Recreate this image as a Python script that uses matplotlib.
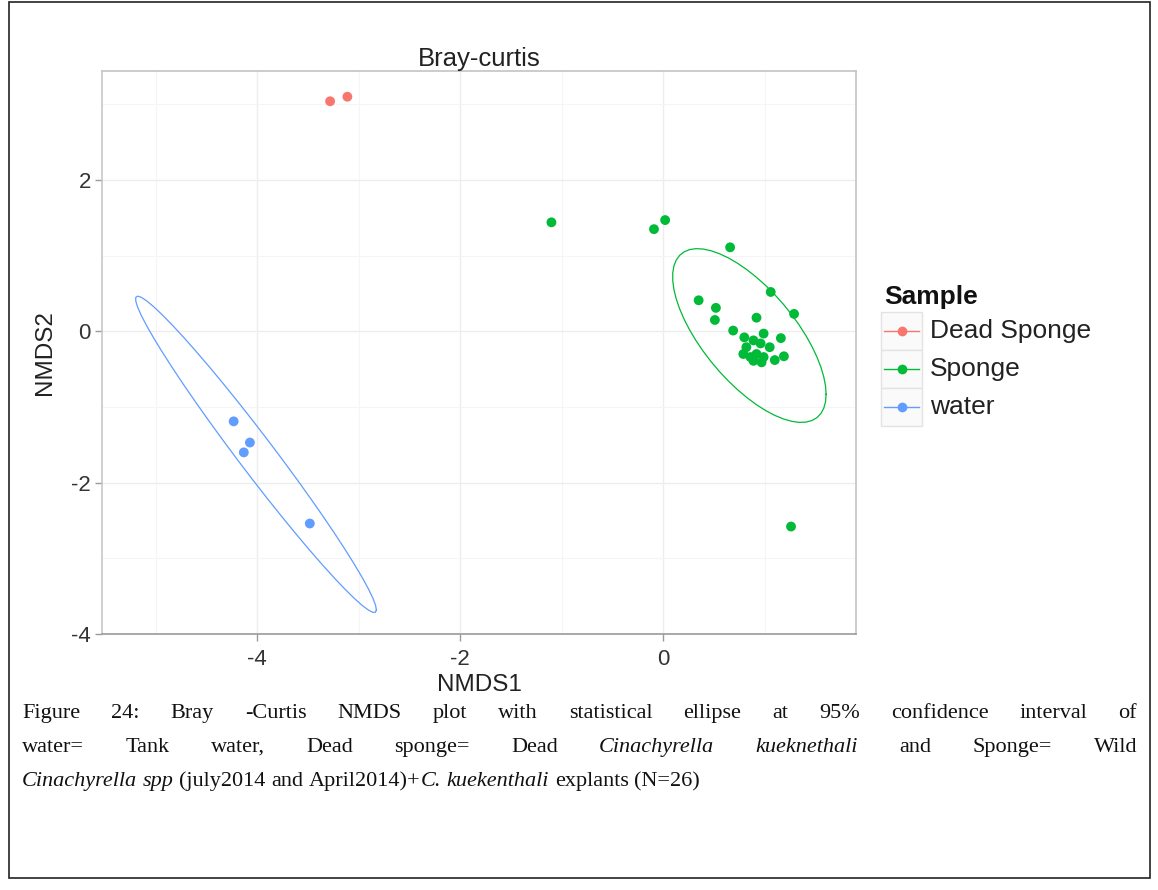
import numpy as np
import matplotlib
matplotlib.use("Agg")
import matplotlib.pyplot as plt
from matplotlib.patches import Rectangle
from matplotlib.lines import Line2D

plt.rcParams["axes.unicode_minus"] = False

# ---------------- data ----------------
groups = ["Dead Sponge", "Sponge", "water"]
colors = ["#F8766D", "#00BA38", "#619CFF"]

dead_x = [-3.28, -3.11]
dead_y = [3.04, 3.10]

sponge_x = [-1.10, -0.09, 0.02, 0.66, 1.26,
            1.06, 1.29, 0.35, 0.52, 0.51, 0.92, 0.69, 0.80, 0.99, 1.16,
            0.89, 0.96, 1.05, 0.82, 0.79, 0.92, 0.99, 1.19, 0.89, 0.97, 1.10, 0.86]
sponge_y = [1.44, 1.35, 1.47, 1.11, -2.58,
            0.52, 0.23, 0.41, 0.31, 0.15, 0.18, 0.01, -0.08, -0.03, -0.09,
            -0.12, -0.16, -0.21, -0.21, -0.30, -0.30, -0.34, -0.33, -0.39, -0.41, -0.38, -0.34]

water_x = [-4.23, -4.07, -4.13, -3.48]
water_y = [-1.19, -1.47, -1.60, -2.54]

xticks = [-4, -2, 0]
yticks = [-4, -2, 0, 2]

caption_lines = [
    [("Figure 24: Bray -Curtis NMDS plot with statistical ellipse at 95% confidence interval of", False)],
    [("water= Tank water, Dead sponge= Dead", False), ("Cinachyrella kueknethali", True),
     ("and Sponge= Wild", False)],
    [("Cinachyrella spp", True), ("(july2014 and April2014)+", False), ("C. kuekenthali", True),
     ("explants (N=26)", False)],
]
# segments glued to the previous one without a space
caption_glue = [[False], [False, False, False], [False, False, True, False]]

# ---------------- stat_ellipse (type "t", level 0.95) ----------------
def cov_trob(X, nu=5, maxit=25, tol=0.01):
    n, p = X.shape
    wt = np.ones(n)
    loc = X.mean(0)
    w = np.sqrt(wt)
    Xc = X - loc
    for _ in range(maxit):
        w0 = w
        Xc = X - loc
        _, d, Vt = np.linalg.svd(np.sqrt(w / w.sum())[:, None] * Xc, full_matrices=False)
        wX = Xc @ Vt.T @ np.diag(1.0 / d)
        Q = (wX ** 2).sum(1)
        w = wt * (nu + p) / (nu + Q)
        loc = (w[:, None] * X).sum(0) / w.sum()
        if np.all(np.abs(w - w0) < tol):
            break
    sw = np.sqrt(w)[:, None] * Xc
    return sw.T @ sw / wt.sum(), loc


def ellipse_path(x, y, level=0.95, segments=51):
    X = np.column_stack([x, y])
    n = len(X)
    if n < 3:
        return None
    cov, center = cov_trob(X)
    d = n - 1
    qf = d / 2.0 * ((1 - level) ** (-2.0 / d) - 1)
    radius = np.sqrt(2 * qf)
    R = np.linalg.cholesky(cov).T
    ang = np.arange(segments + 1) * 2 * np.pi / segments
    circ = np.column_stack([np.cos(ang), np.sin(ang)])
    return center + radius * (circ @ R)

# ---------------- figure ----------------
W, H = 1158, 890
fig = plt.figure(figsize=(W / 100, H / 100), dpi=100)
fig.patch.set_facecolor("white")

def fx(px):
    return px / W

def fy(py):
    return 1 - py / H

# document frame
frame = Rectangle((fx(9), fy(878)), fx(1150) - fx(9), fy(1.5) - fy(878), transform=fig.transFigure,
                  fill=False, edgecolor="#222222", linewidth=1.2)
fig.add_artist(frame)

pl, pr, pt, pb = 102, 856, 71, 634
ax = fig.add_axes([fx(pl), fy(pb), fx(pr) - fx(pl), fy(pt) - fy(pb)])
ax.set_facecolor("white")

sans = ["Liberation Sans", "DejaVu Sans"]

data = [(dead_x, dead_y), (sponge_x, sponge_y), (water_x, water_y)]
for (gx, gy), c in zip(data, colors):
    e = ellipse_path(np.array(gx), np.array(gy))
    if e is not None:
        ax.plot(e[:, 0], e[:, 1], color=c, lw=0.9, zorder=3)
for (gx, gy), c in zip(data, colors):
    ax.scatter(gx, gy, s=50, color=c, edgecolors="none", zorder=4)

ax.set_xlim(-5.527, 1.90)
ax.set_ylim(-4.0, 3.44)
ax.set_xticks(xticks)
ax.set_yticks(yticks)
ax.set_xticks([-5, -3, -1, 1], minor=True)
ax.set_yticks([-3, -1, 1, 3], minor=True)
ax.grid(True, which="major", color="#EDEDED", lw=1.0)
ax.grid(True, which="minor", color="#F5F5F5", lw=0.8)
ax.set_axisbelow(True)
for s in ax.spines.values():
    s.set_color("#C4C4C4")
    s.set_linewidth(1.2)
ax.spines["bottom"].set_color("#9A9A9A")
ax.spines["left"].set_color("#C8C8C8")
ax.tick_params(which="major", length=5, width=1, color="#9A9A9A", labelcolor="#333333",
               labelsize=16, pad=3)
ax.tick_params(axis="x", which="major", pad=6)
ax.tick_params(which="minor", length=0)
for lab in ax.get_xticklabels() + ax.get_yticklabels():
    lab.set_family(sans)

ax.set_xlabel("NMDS1", fontsize=17.5, family=sans, color="#222222", labelpad=3)
ax.set_ylabel("NMDS2", fontsize=17.5, family=sans, color="#222222", labelpad=11)
ax.set_title("Bray-curtis", fontsize=18.5, family=sans, color="#222222", pad=1)

# ---------------- legend ----------------
fig.text(fx(884), fy(297), "Sample", fontsize=19, fontweight="bold", family=sans,
         ha="left", va="center", color="#111111")
row_tops = [312, 350, 388]
row_h = 38
kx0, kx1 = 881, 922
for i, (g, c) in enumerate(zip(groups, colors)):
    top = row_tops[i]
    fig.add_artist(Rectangle((fx(kx0), fy(top + row_h)), fx(kx1) - fx(kx0), fy(top) - fy(top + row_h),
                             transform=fig.transFigure, facecolor="#FAFAFA", edgecolor="#E3E3E3", lw=1))
    cy = fy(top + row_h / 2)
    fig.add_artist(Line2D([fx(kx0 + 3), fx(kx1 - 3)], [cy, cy], transform=fig.transFigure,
                          color=c, lw=1.0))
    fig.add_artist(Line2D([fx((kx0 + kx1) / 2)], [cy], transform=fig.transFigure, marker="o",
                          markersize=7, color=c, markeredgewidth=0, linestyle="none"))
    fig.text(fx(930), cy, g, fontsize=19, family=sans, ha="left", va="center", color="#222222")

# ---------------- caption (justified) ----------------
serif = ["Liberation Serif", "DejaVu Serif"]
cap_size = 16
left_px, right_px = 22, 1137
line_base = [718, 752, 786]
renderer = fig.canvas.get_renderer()


def measure(s, it):
    t = fig.text(0, 0, s, fontsize=cap_size, family=serif, style="italic" if it else "normal")
    wdt = t.get_window_extent(renderer).width
    t.remove()
    return wdt

sp_w = measure("a a", False) - measure("aa", False)

for li, segs in enumerate(caption_lines):
    words = []  # (text, italic, glued_to_previous)
    for si, (txt, it) in enumerate(segs):
        parts = [p for p in txt.split(" ") if p]
        for pi, p in enumerate(parts):
            words.append((p, it, caption_glue[li][si] and pi == 0))
    widths = [measure(p, it) for p, it, _ in words]
    n_gaps = sum(1 for k, wd in enumerate(words) if k > 0 and not wd[2])
    justify = li < len(caption_lines) - 1
    if justify and n_gaps > 0:
        gap = (right_px - left_px - sum(widths)) / n_gaps
    else:
        gap = sp_w
    x = left_px
    for k, ((p, it, glued), wd) in enumerate(zip(words, widths)):
        if k > 0 and not glued:
            x += gap
        fig.text(fx(x), fy(line_base[li]), p, fontsize=cap_size, family=serif,
                 style="italic" if it else "normal", ha="left", va="baseline", color="#111111")
        x += wd

fig.savefig("out.png", dpi=100, facecolor="white")
